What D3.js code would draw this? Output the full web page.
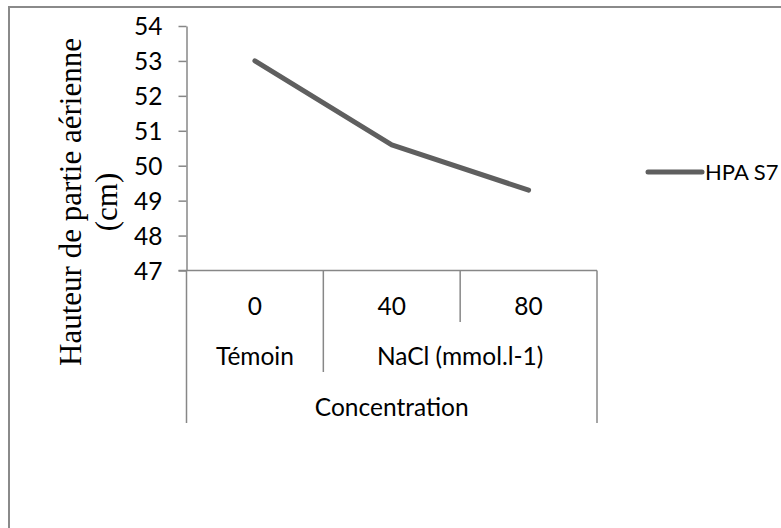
<!DOCTYPE html>
<html>
<head>
<meta charset="utf-8">
<script src="https://cdn.jsdelivr.net/npm/d3@7"></script>
<style>
  html, body { margin: 0; padding: 0; background: #fff; }
  svg { display: block; }
</style>
</head>
<body>
<script>
// Plant shoot height under salt stress
const concentrations = ["0", "40", "80"];
const hpaValues = [53, 50.6, 49.3];
const groupLabels = ["Témoin", "NaCl (mmol.l-1)"];
const groupMembers = [["0"], ["40", "80"]];
const outerLabel = "Concentration";
const yTicks = [47, 48, 49, 50, 51, 52, 53, 54];
const seriesName = "HPA S7";
const yTitleLines = ["Hauteur de partie aérienne", "(cm)"];

const W = 781, H = 528;
const axisColor = "#878787";
const lineColor = "#5f5f5f";
const sansFont = "Lato, 'Open Sans', sans-serif";
const labelSize = 24.5;

const svg = d3.select("body").append("svg")
  .attr("width", W).attr("height", H);

// outer frame (right and bottom edges fall outside the view)
svg.append("path")
  .attr("d", `M9,${H + 5} L9,7 L${W + 5},7`)
  .attr("fill", "none").attr("stroke", "#8a8a8a").attr("stroke-width", 2);

const plot = { left: 186.5, right: 597, top: 26, bottom: 270.5 };

const x = d3.scaleBand().domain(concentrations)
  .range([plot.left, plot.right]).padding(0);
const y = d3.scaleLinear().domain([47, 54]).range([plot.bottom, plot.top]);

// y axis
const yAxis = svg.append("g")
  .attr("transform", `translate(${plot.left},0)`)
  .call(d3.axisLeft(y).tickValues(yTicks).tickFormat(d3.format("d"))
    .tickSize(8).tickSizeOuter(0).tickPadding(16));
yAxis.select(".domain").attr("stroke", axisColor).attr("stroke-width", 1.5);
yAxis.selectAll(".tick line").attr("stroke", axisColor).attr("stroke-width", 1.5);
yAxis.selectAll(".tick text")
  .attr("font-family", sansFont).attr("font-size", labelSize).attr("fill", "#000")
  .attr("dy", "0.36em");

// y axis title, two lines rotated
const titleCy = 202;
yTitleLines.forEach((t, i) => {
  svg.append("text")
    .attr("transform", `translate(${81 + i * 36},${titleCy}) rotate(-90)`)
    .attr("text-anchor", "middle")
    .attr("font-family", "'Liberation Serif', 'Times New Roman', serif")
    .attr("font-size", 31).attr("fill", "#000")
    .text(t);
});

// category axis: baseline and table dividers
const g = svg.append("g").attr("stroke", axisColor).attr("stroke-width", 1.5);
g.append("line")
  .attr("x1", plot.left - 8).attr("x2", plot.right)
  .attr("y1", plot.bottom).attr("y2", plot.bottom);

const level1Bottom = 322, level2Bottom = 372, level3Bottom = 423;
// outer edges span all three levels
[plot.left, plot.right].forEach(px => {
  g.append("line").attr("x1", px).attr("x2", px)
    .attr("y1", plot.bottom).attr("y2", level3Bottom);
});
// boundaries between concentrations
concentrations.slice(1).forEach(c => {
  const px = x(c);
  const isGroupEdge = groupMembers.some(m => m[0] === c);
  g.append("line").attr("x1", px).attr("x2", px)
    .attr("y1", plot.bottom).attr("y2", isGroupEdge ? level2Bottom : level1Bottom);
});

const labelStyle = sel => sel
  .attr("font-family", sansFont).attr("font-size", labelSize)
  .attr("fill", "#000").attr("text-anchor", "middle");

svg.selectAll("text.cat").data(concentrations).join("text")
  .attr("class", "cat")
  .attr("x", d => x(d) + x.bandwidth() / 2)
  .attr("y", 315)
  .call(labelStyle)
  .text(d => d);

svg.selectAll("text.grp").data(groupLabels).join("text")
  .attr("class", "grp")
  .attr("x", (d, i) => {
    const m = groupMembers[i];
    return (x(m[0]) + x(m[m.length - 1]) + x.bandwidth()) / 2;
  })
  .attr("y", 365)
  .call(labelStyle)
  .text(d => d);

svg.append("text")
  .attr("x", (plot.left + plot.right) / 2)
  .attr("y", 416)
  .call(labelStyle)
  .text(outerLabel);

// data line
const line = d3.line()
  .x((d, i) => x(concentrations[i]) + x.bandwidth() / 2)
  .y(d => y(d));
svg.append("path")
  .datum(hpaValues)
  .attr("d", line)
  .attr("fill", "none")
  .attr("stroke", lineColor)
  .attr("stroke-width", 5)
  .attr("stroke-linecap", "round")
  .attr("stroke-linejoin", "round");

// legend
const lg = svg.append("g").attr("transform", "translate(648,172)");
lg.append("line").attr("x1", 0).attr("x2", 54)
  .attr("stroke", lineColor).attr("stroke-width", 5).attr("stroke-linecap", "round");
lg.append("text").attr("x", 57).attr("y", 8)
  .attr("font-family", sansFont).attr("font-size", 22).attr("fill", "#000")
  .text(seriesName);
</script>
</body>
</html>
